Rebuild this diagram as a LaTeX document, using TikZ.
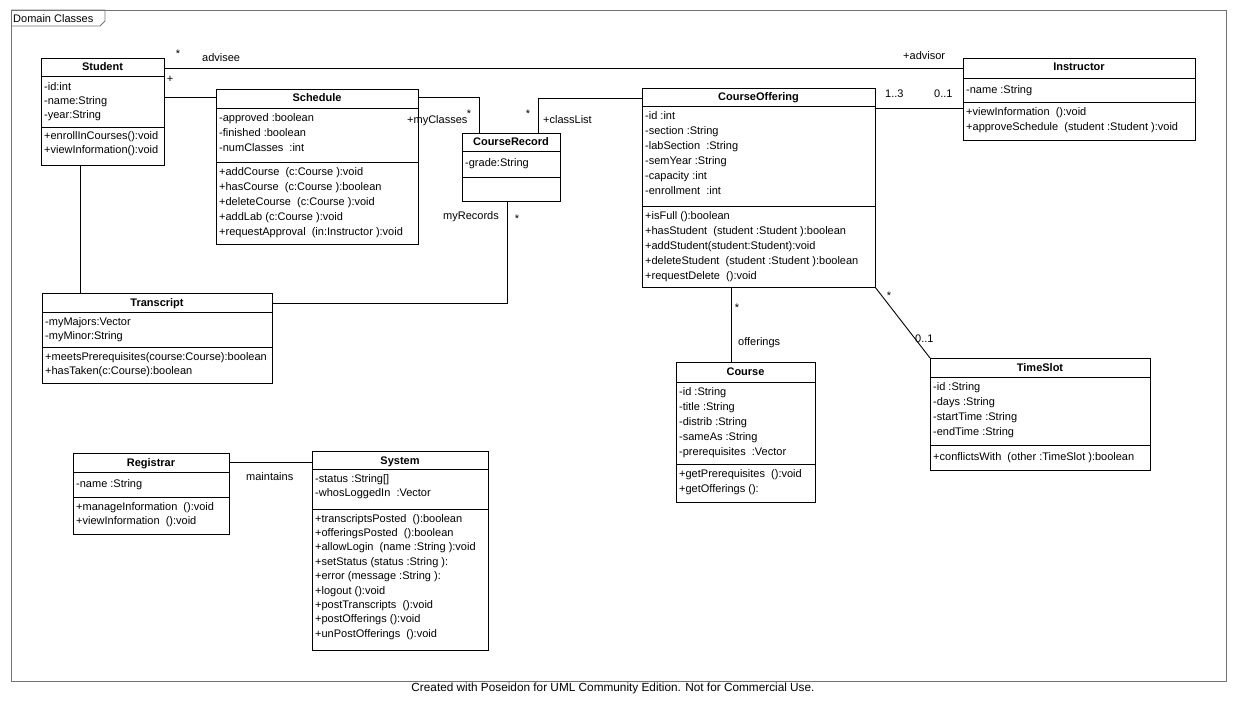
\documentclass[tikz,border=0pt]{standalone}
\usepackage{fontspec}
\setmainfont{Liberation Sans}
\begin{document}
\begin{tikzpicture}[
    x=1pt, y=-1pt,
    font=\fontsize{11}{15}\selectfont,
    umlbox/.style={draw, rectangle, line width=0.9pt, anchor=north west, inner sep=0pt, outer sep=0pt},
    classname/.style={font=\fontsize{11}{15}\selectfont\bfseries, anchor=base, inner sep=0pt},
    members/.style={anchor=north west, align=left, inner sep=0pt, execute at begin node=\strut},
    tight/.style={font=\fontsize{11}{14.4}\selectfont},
    sepline/.style={line width=0.9pt},
    assoc/.style={line width=0.9pt},
    frame/.style={line width=0.9pt, draw=black!55},
    lbl/.style={anchor=base west, inner sep=0pt},
    mult/.style={anchor=base, inner sep=0pt},
]
\useasboundingbox (0,0) rectangle (1236,711);

% Frame
\draw[frame] (11,10) rectangle (1226,681);
\draw[frame] (11,10) -- (105,10) -- (105,21) -- (100,26) -- (11,26);
\node[lbl] (frameTitle) at (13,23) {Domain Classes};

% Student
\node[umlbox, minimum width=123, minimum height=107] (student) at (41,58) {};
\node[classname] (studentName) at (102.5,71) {Student};
\draw[sepline] (41,76) -- (164,76);
\draw[sepline] (41,127) -- (164,127);
\node[members, tight] (studentAttr) at (44,82) {-id:int\\-name:String\\-year:String};
\node[members, tight] (studentOps) at (44,131) {+enrollInCourses():void\\+viewInformation():void};

% Schedule
\node[umlbox, minimum width=202, minimum height=155] (schedule) at (216,89) {};
\node[classname] (scheduleName) at (317,102) {Schedule};
\draw[sepline] (216,108) -- (418,108);
\draw[sepline] (216,162) -- (418,162);
\node[members] (scheduleAttr) at (219,113) {-approved :boolean\\-finished :boolean\\-numClasses \ :int};
\node[members] (scheduleOps) at (219,167) {+addCourse \ (c:Course ):void\\+hasCourse \ (c:Course ):boolean\\+deleteCourse \ (c:Course ):void\\+addLab (c:Course ):void\\+requestApproval \ (in:Instructor ):void};

% CourseRecord
\node[umlbox, minimum width=98, minimum height=68] (courseRecord) at (462,133) {};
\node[classname] (courseRecordName) at (511,146) {CourseRecord};
\draw[sepline] (462,151) -- (560,151);
\draw[sepline] (462,177) -- (560,177);
\node[members] (courseRecordAttr) at (465,156) {-grade:String};

% CourseOffering
\node[umlbox, minimum width=233, minimum height=199] (courseOffering) at (642,88) {};
\node[classname] (courseOfferingName) at (758.5,101) {CourseOffering};
\draw[sepline] (642,106) -- (875,106);
\draw[sepline] (642,206) -- (875,206);
\node[members] (courseOfferingAttr) at (645,111) {-id :int\\-section :String\\-labSection \ :String\\-semYear :String\\-capacity :int\\-enrollment \ :int};
\node[members] (courseOfferingOps) at (645,211) {+isFull ():boolean\\+hasStudent \ (student :Student ):boolean\\+addStudent(student:Student):void\\+deleteStudent \ (student :Student ):boolean\\+requestDelete \ ():void};

% Instructor
\node[umlbox, minimum width=232, minimum height=82] (instructor) at (963,58) {};
\node[classname] (instructorName) at (1079,71) {Instructor};
\draw[sepline] (963,78) -- (1195,78);
\draw[sepline] (963,102) -- (1195,102);
\node[members] (instructorAttr) at (966,83) {-name :String};
\node[members] (instructorOps) at (966,107) {+viewInformation \ ():void\\+approveSchedule \ (student :Student ):void};

% Transcript
\node[umlbox, minimum width=230, minimum height=90] (transcript) at (42,293) {};
\node[classname] (transcriptName) at (157,306) {Transcript};
\draw[sepline] (42,312) -- (272,312);
\draw[sepline] (42,347) -- (272,347);
\node[members, tight] (transcriptAttr) at (45,317) {-myMajors:Vector\\-myMinor:String};
\node[members, tight] (transcriptOps) at (45,352) {+meetsPrerequisites(course:Course):boolean\\+hasTaken(c:Course):boolean};

% Course
\node[umlbox, minimum width=139, minimum height=140] (course) at (676,362) {};
\node[classname] (courseName) at (745.5,375) {Course};
\draw[sepline] (676,382) -- (815,382);
\draw[sepline] (676,464) -- (815,464);
\node[members] (courseAttr) at (679,387) {-id :String\\-title :String\\-distrib :String\\-sameAs :String\\-prerequisites \ :Vector};
\node[members] (courseOps) at (679,469) {+getPrerequisites \ ():void\\+getOfferings ():};

% TimeSlot
\node[umlbox, minimum width=220, minimum height=112] (timeSlot) at (930,358) {};
\node[classname] (timeSlotName) at (1040,371) {TimeSlot};
\draw[sepline] (930,377) -- (1150,377);
\draw[sepline] (930,445) -- (1150,445);
\node[members] (timeSlotAttr) at (933,382) {-id :String\\-days :String\\-startTime :String\\-endTime :String};
\node[members] (timeSlotOps) at (933,450) {+conflictsWith \ (other :TimeSlot ):boolean};

% Registrar
\node[umlbox, minimum width=156, minimum height=81] (registrar) at (73,453) {};
\node[classname] (registrarName) at (151,466) {Registrar};
\draw[sepline] (73,472) -- (229,472);
\draw[sepline] (73,497) -- (229,497);
\node[members, tight] (registrarAttr) at (76,477) {-name :String};
\node[members, tight] (registrarOps) at (76,502) {+manageInformation \ ():void\\+viewInformation \ ():void};

% System
\node[umlbox, minimum width=176, minimum height=199] (system) at (312,451) {};
\node[classname] (systemName) at (400,464) {System};
\draw[sepline] (312,469) -- (488,469);
\draw[sepline] (312,509) -- (488,509);
\node[members, tight] (systemAttr) at (315,474) {-status :String[]\\-whosLoggedIn \ :Vector};
\node[members, tight] (systemOps) at (315,514) {+transcriptsPosted \ ():boolean\\+offeringsPosted \ ():boolean\\+allowLogin \ (name :String ):void\\+setStatus (status :String ):\\+error (message :String ):\\+logout ():void\\+postTranscripts \ ():void\\+postOfferings ():void\\+unPostOfferings \ ():void};

% Associations
\draw[assoc] ([yshift=-10pt]student.north east) -- ([yshift=-10pt]instructor.north west);
\coordinate (schedJoin) at ([yshift=-8pt]schedule.north west);
\draw[assoc] (schedJoin -| student.east) -- (schedJoin);
\coordinate (crFromSched) at ([xshift=17pt]courseRecord.north west);
\draw[assoc] (schedJoin -| schedule.east) -| (crFromSched);
\coordinate (coJoin) at ([yshift=-10pt]courseOffering.north west);
\coordinate (crFromCO) at ([xshift=76pt]courseRecord.north west);
\draw[assoc] (coJoin) -| (crFromCO);
\coordinate (crToTr) at ([xshift=45pt]courseRecord.south west);
\coordinate (trJoin) at ([yshift=-10pt]transcript.north east);
\draw[assoc] (crToTr) |- (trJoin);
\coordinate (stuDown) at ([xshift=39pt]student.south west);
\draw[assoc] (stuDown) -- (stuDown |- transcript.north);
\coordinate (coToInstr) at ([yshift=-20pt]courseOffering.north east);
\draw[assoc] (coToInstr) -- (coToInstr -| instructor.west);
\coordinate (coDown) at ([xshift=89pt]courseOffering.south west);
\draw[assoc] (coDown) -- (coDown |- course.north);
\draw[assoc] (courseOffering.south east) -- (timeSlot.north west);
\coordinate (regJoin) at ([yshift=-9pt]registrar.north east);
\draw[assoc] (regJoin) -- (regJoin -| system.west);

% Role names and multiplicities
\node[mult] (adviseeMult) at (178,58) {*};
\node[lbl] (adviseeRole) at (202,62) {advisee};
\node[mult] (scheduleRole) at (170,83) {+};
\node[lbl] (advisorRole) at (903,59.5) {+advisor};
\node[lbl] (instrMultA) at (885,97.5) {1..3};
\node[lbl] (instrMultB) at (934,98) {0..1};
\node[lbl] (myClassesRole) at (407,124) {+myClasses};
\node[mult] (myClassesMult) at (469,118) {*};
\node[mult] (classListMult) at (528,118) {*};
\node[lbl] (classListRole) at (543,124) {+classList};
\node[lbl] (myRecordsRole) at (443,219.5) {myRecords};
\node[mult] (myRecordsMult) at (517,222.5) {*};
\node[mult] (offeringsMult) at (737,311.5) {*};
\node[lbl] (offeringsRole) at (738,345.5) {offerings};
\node[mult] (slotMultA) at (889,299) {*};
\node[lbl] (slotMultB) at (915,342) {0..1};
\node[lbl] (maintainsLbl) at (246,480.5) {maintains};

% Footer
\node[mult, font=\fontsize{11.8}{15}\selectfont] (footer) at (613,691) {Created with Poseidon for UML Community Edition. Not for Commercial Use.};

\end{tikzpicture}
\end{document}
